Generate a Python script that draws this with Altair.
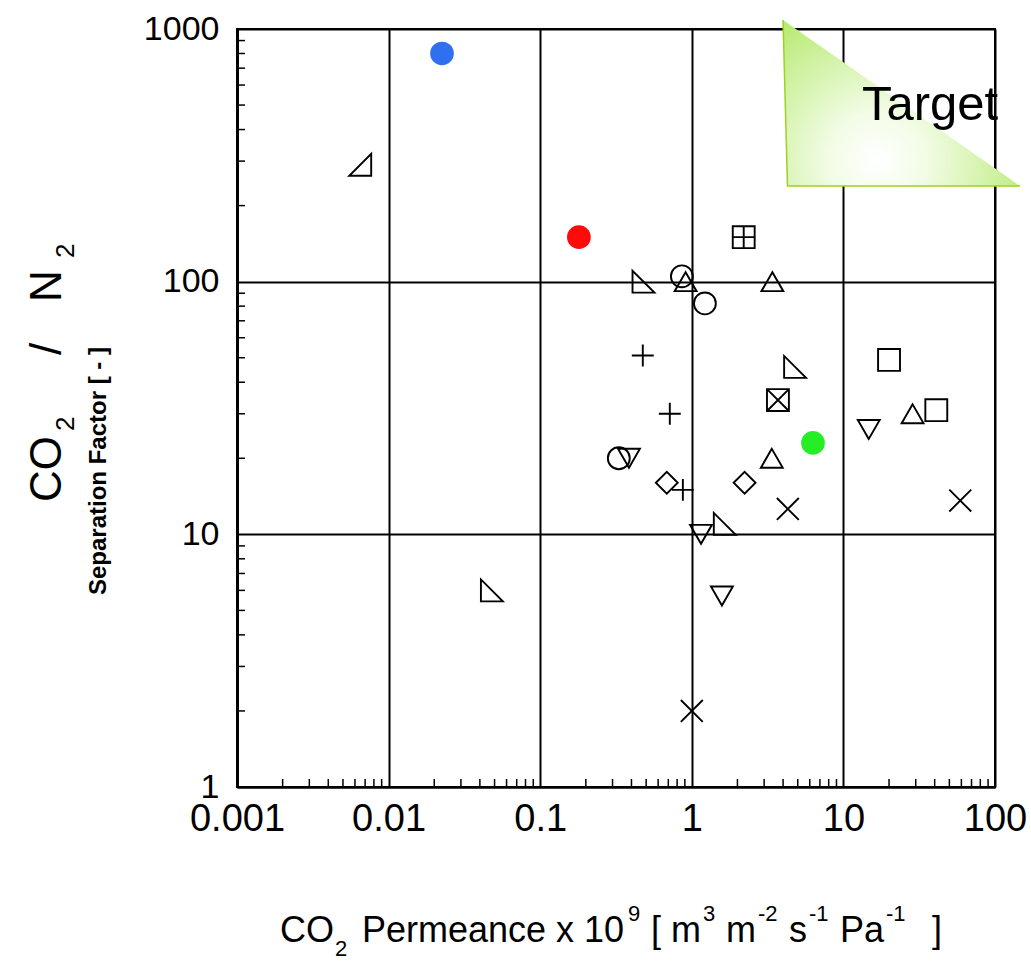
import altair as alt
import pandas as pd

# ---------------- data ----------------
filled_name = ["blue", "red", "green"]
filled_x = [0.0225, 0.18, 6.3]
filled_y = [800, 150, 23]
filled_color = ["#2f6ff0", "#ff0a0a", "#26ee26"]

rtri_br_x = [0.0065]
rtri_br_y = [290]
rtri_bl_x = [0.048, 0.48, 1.65, 4.8]
rtri_bl_y = [6.0, 100, 11, 46]
circle_x = [0.86, 1.22, 0.33]
circle_y = [105, 82, 20]
triup_x = [0.91, 3.4, 3.37, 28.6]
triup_y = [100, 100, 20, 30]
tridown_x = [0.385, 1.15, 1.58, 14.7]
tridown_y = [20, 10, 5.7, 26]
plus_x = [0.475, 0.716, 0.873]
plus_y = [51, 30, 15]
diamond_x = [0.684, 2.23]
diamond_y = [16, 16]
cross_x = [4.3, 59, 1.0]
cross_y = [12.6, 13.6, 2.0]
square_x = [20, 41]
square_y = [49, 31]
sqplus_x = [2.2]
sqplus_y = [150]
sqcross_x = [3.7]
sqcross_y = [34]

x_ticks = [0.001, 0.01, 0.1, 1, 10, 100]
y_ticks = [1, 10, 100, 1000]
minor_mult = [2, 3, 4, 5, 6, 7, 8, 9]
x_decades = [0.001, 0.01, 0.1, 1, 10]
y_decades = [1, 10, 100]

# ---------------- layout ----------------
W, H = 758, 758
OX, OY = 237, 29
FONT = "Liberation Sans, Arial, Helvetica"

SHAPES = {
    "rtri_br": "M1,-1L1,1L-1,1Z",
    "rtri_bl": "M-1,-1L-1,1L1,1Z",
    "circle": "circle",
    "triup": "triangle-up",
    "tridown": "triangle-down",
    "plus": "M-1,0L1,0M0,-1L0,1",
    "diamond": "diamond",
    "cross": "M-1,-1L1,1M-1,1L1,-1",
    "square": "square",
    "sqplus": "M-1,-1L1,-1L1,1L-1,1ZM0,-1L0,1M-1,0L1,0",
    "sqcross": "M-1,-1L1,-1L1,1L-1,1ZM-1,-1L1,1M-1,1L1,-1",
}
groups = [
    ("rtri_br", rtri_br_x, rtri_br_y), ("rtri_bl", rtri_bl_x, rtri_bl_y),
    ("circle", circle_x, circle_y), ("triup", triup_x, triup_y),
    ("tridown", tridown_x, tridown_y), ("plus", plus_x, plus_y),
    ("diamond", diamond_x, diamond_y), ("cross", cross_x, cross_y),
    ("square", square_x, square_y), ("sqplus", sqplus_x, sqplus_y),
    ("sqcross", sqcross_x, sqcross_y),
]
rows = []
for name, xs, ys in groups:
    for a, b in zip(xs, ys):
        rows.append({"x": a, "y": b, "marker": name})
open_df = pd.DataFrame(rows)
filled_df = pd.DataFrame({"x": filled_x, "y": filled_y, "name": filled_name})
xminor_df = pd.DataFrame({"x": [m * d for d in x_decades for m in minor_mult]})
yminor_df = pd.DataFrame({"y": [m * d for d in y_decades for m in minor_mult]})

xscale = alt.Scale(type="log", domain=[0.001, 100], nice=False)
yscale = alt.Scale(type="log", domain=[1, 1000], nice=False)
xaxis = alt.Axis(values=x_ticks, format="~g", grid=True, gridColor="black", gridWidth=2,
                 gridOpacity=1, domainColor="black", domainWidth=2, ticks=False,
                 labelFont=FONT, labelFontSize=38, labelColor="black", labelPadding=13,
                 labelFlush=False, labelOverlap=False, title=None)
yaxis = alt.Axis(values=y_ticks, format="~g", grid=True, gridColor="black", gridWidth=2,
                 gridOpacity=1, domainColor="black", domainWidth=3, ticks=False,
                 labelFont=FONT, labelFontSize=34, labelColor="black", labelPadding=18,
                 labelFlush=False, labelOverlap=False, title=None)
X = alt.X("x:Q", scale=xscale, axis=xaxis)
Y = alt.Y("y:Q", scale=yscale, axis=yaxis)

open_pts = alt.Chart(open_df).mark_point(filled=False, color="black", strokeWidth=1.9,
                                         size=480, opacity=1).encode(
    x=X, y=Y,
    shape=alt.Shape("marker:N", scale=alt.Scale(domain=list(SHAPES.keys()),
                                                range=list(SHAPES.values())), legend=None),
)
filled_pts = alt.Chart(filled_df).mark_circle(size=560, opacity=1).encode(
    x=X, y=Y,
    color=alt.Color("name:N", scale=alt.Scale(domain=filled_name, range=filled_color), legend=None),
)
xminor = alt.Chart(xminor_df).mark_rule(color="black", strokeWidth=1.5).encode(
    x=X, y=alt.value(H - 8), y2=alt.value(H))
yminor = alt.Chart(yminor_df).mark_rule(color="black", strokeWidth=1.5).encode(
    y=Y, x=alt.value(0), x2=alt.value(8))


def txt(s, px, py, size, angle=0, align="left", baseline="alphabetic", weight="normal"):
    return alt.Chart(pd.DataFrame({"t": [s]})).mark_text(
        font=FONT, fontSize=size, angle=angle, align=align, baseline=baseline,
        fontWeight=weight, color="black").encode(
        x=alt.value(px - OX), y=alt.value(py - OY), text="t:N")


# Target triangle (annotation)
grad = {"gradient": "radial", "x1": 0.4, "y1": 0.74, "r1": 0.0,
        "x2": 0.4, "y2": 0.74, "r2": 0.68,
        "stops": [{"offset": 0, "color": "#ffffff"}, {"offset": 0.3, "color": "#f2fce6"},
                  {"offset": 1, "color": "#b9eb76"}]}
one = pd.DataFrame({"a": [0]})
tri_fill = alt.Chart(one).mark_point(
    shape="M-1,-0.70L-0.962,0.70L1,0.70Z", size=237 ** 2, filled=True, fill=grad,
    strokeOpacity=0, opacity=1).encode(x=alt.value(901.5 - OX), y=alt.value(103 - OY))
tri_edge = alt.Chart(one).mark_point(
    shape="M-1,-0.70L-0.962,0.70L1,0.70", size=237 ** 2, filled=False, stroke="#9fd21f",
    strokeWidth=1.5, opacity=1).encode(x=alt.value(901.5 - OX), y=alt.value(103 - OY))
target = txt("Target", 862, 120, 49)

# x axis title pieces
MS, SS = 36, 22
xt = [
    txt("CO", 280, 942, MS), txt("2", 335, 956, SS),
    txt("Permeance x 10", 362, 942, MS), txt("9", 628, 921, SS),
    txt("[", 651, 942, MS), txt("m", 671, 942, MS), txt("3", 703, 921, SS),
    txt("m", 726, 942, MS), txt("-2", 758, 921, SS),
    txt("s", 789, 942, MS), txt("-1", 809, 921, SS),
    txt("Pa", 840, 942, MS), txt("-1", 886, 921, SS), txt("]", 932, 942, MS),
]
# y axis title pieces (rotated)
yt = [
    txt("CO", 61, 502, 44, angle=270), txt("2", 74, 431, 26, angle=270),
    txt("/", 61, 355, 44, angle=270),
    txt("N", 61, 302, 44, angle=270), txt("2", 74, 258, 26, angle=270),
    txt("Separation Factor [ - ]", 106, 471, 24, angle=270, align="center", weight="bold"),
]

chart = alt.layer(
    xminor, yminor, tri_fill, tri_edge, target, open_pts, filled_pts, *xt, *yt
).properties(
    width=W, height=H,
    autosize=alt.AutoSizeParams(type="none"),
    padding={"left": OX, "top": OY, "right": 1031 - OX - W, "bottom": 962 - OY - H},
).configure_view(stroke="black", strokeWidth=2)

chart.save("out.html", embed_options={"renderer": "svg", "actions": False})
